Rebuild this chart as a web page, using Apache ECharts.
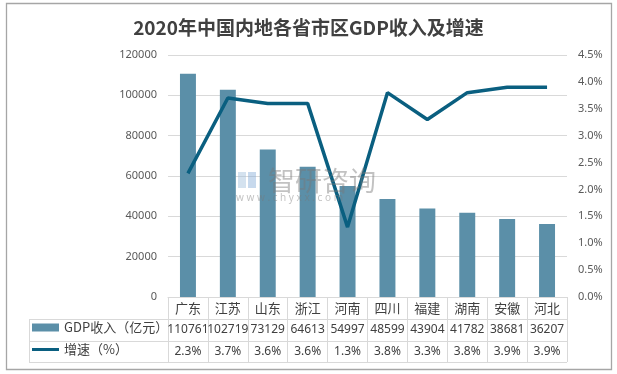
<!DOCTYPE html>
<html><head><meta charset="utf-8">
<script src="https://cdn.jsdelivr.net/npm/echarts@6/dist/echarts.min.js"></script>
<style>html,body{margin:0;padding:0;background:#fff}#c{width:617px;height:374px}</style>
</head><body><div id="c"></div>
<script>
const categories = ['广东','江苏','山东','浙江','河南','四川','福建','湖南','安徽','河北'];
const gdpValues = [110761,102719,73129,64613,54997,48599,43904,41782,38681,36207];
const growthValues = [2.3,3.7,3.6,3.6,1.3,3.8,3.3,3.8,3.9,3.9];
const gdpName = 'GDP收入（亿元）';
const growthName = '增速（%）';
const titleText = '2020年中国内地各省市区GDP收入及增速';

const FONT = '"Noto Sans","Noto Sans CJK SC",sans-serif';
const CJK = '"Noto Sans CJK SC","Noto Sans",sans-serif';
const barColor = '#5b8fa8';
const lineColor = '#0a5f80';
const tableLine = '#d9d9d9';

const chart = echarts.init(document.getElementById('c'));
const gL = 168, gR = 567, gT = 55, gB = 297;
const tableLeft = 29, rowH = 22;

const legendText = { fontFamily: CJK, fontSize: 13, color: '#404040' };

chart.setOption({
  backgroundColor: '#fff',
  animation: false,
  title: {
    text: titleText, left: 'center', top: 13,
    textStyle: { fontFamily: CJK, fontSize: 19, fontWeight: 'bold', color: '#404040' }
  },
  legend: [
    {
      left: 32, top: gB + rowH + 2, padding: 0, height: rowH,
      itemWidth: 27, itemHeight: 8, textStyle: legendText,
      data: [{ name: gdpName, icon: 'rect' }]
    },
    {
      left: 32, top: gB + 2 * rowH + 2, padding: 0, height: rowH,
      itemWidth: 27, itemHeight: 8, textStyle: legendText,
      data: [{ name: growthName, icon: 'path://M0,0M27,8M0,2.5H27V5.5H0Z' }]
    }
  ],
  grid: { left: gL, right: 617 - gR, top: gT, bottom: 374 - gB, containLabel: false },
  xAxis: {
    type: 'category', data: categories,
    axisLine: { lineStyle: { color: tableLine } },
    axisTick: { show: true, length: rowH * 3 - 1, interval: 0, lineStyle: { color: tableLine } },
    axisLabel: {
      interval: 0, margin: 0, hideOverlap: false,
      formatter: function (v, i) {
        return '{c|' + v + '}\n{n|' + gdpValues[i] + '}\n{n|' + growthValues[i].toFixed(1) + '%}';
      },
      rich: {
        c: { fontFamily: CJK, fontSize: 13, lineHeight: rowH, color: '#404040' },
        n: { fontFamily: FONT, fontSize: 12, lineHeight: rowH, color: '#404040' }
      }
    }
  },
  yAxis: [
    {
      type: 'value', min: 0, max: 120000, interval: 20000,
      axisLine: { show: false }, axisTick: { show: false },
      axisLabel: { fontFamily: FONT, fontSize: 11, color: '#595959', margin: 11,
        formatter: v => String(v) },
      splitLine: { lineStyle: { color: tableLine } }
    },
    {
      type: 'value', min: 0, max: 4.5, interval: 0.5,
      axisLine: { show: false }, axisTick: { show: false },
      axisLabel: { fontFamily: FONT, fontSize: 11, color: '#595959', margin: 11,
        formatter: v => v.toFixed(1) + '%' },
      splitLine: { show: false }
    }
  ],
  series: [
    {
      name: gdpName, type: 'bar', data: gdpValues, barWidth: '40%',
      itemStyle: { color: barColor }, z: 2
    },
    {
      name: growthName, type: 'line', yAxisIndex: 1, data: growthValues,
      symbol: 'none', lineStyle: { color: lineColor, width: 3.5 },
      itemStyle: { color: lineColor }, z: 3
    }
  ],
  graphic: [
    { type: 'rect', shape: { x: 6.5, y: 3.5, width: 605, height: 366 },
      style: { fill: 'none', stroke: '#a6a6a6', lineWidth: 1.3 }, silent: true },
    { type: 'line', shape: { x1: tableLeft, y1: gB + rowH + 0.5, x2: gR, y2: gB + rowH + 0.5 },
      style: { stroke: tableLine, lineWidth: 1 } },
    { type: 'line', shape: { x1: tableLeft, y1: gB + 2 * rowH + 0.5, x2: gR, y2: gB + 2 * rowH + 0.5 },
      style: { stroke: tableLine, lineWidth: 1 } },
    { type: 'line', shape: { x1: tableLeft, y1: gB + 3 * rowH - 0.5, x2: gR, y2: gB + 3 * rowH - 0.5 },
      style: { stroke: tableLine, lineWidth: 1 } },
    { type: 'line', shape: { x1: tableLeft + 0.5, y1: gB + rowH, x2: tableLeft + 0.5, y2: gB + 3 * rowH },
      style: { stroke: tableLine, lineWidth: 1 } },
    // watermark
    { type: 'text', left: 268, top: 167, z: 10, silent: true,
      style: { text: '智研咨询', fontFamily: CJK, fontSize: 27, fill: 'rgba(120,120,120,0.45)' } },
    { type: 'text', left: 236, top: 193, z: 10, silent: true,
      style: { text: 'w w w . c h y x x . c o m', fontFamily: FONT, fontSize: 10, fill: 'rgba(120,120,120,0.45)' } },
    { type: 'rect', shape: { x: 238, y: 172, width: 8, height: 16 }, z: 10, silent: true,
      style: { fill: 'rgba(160,190,220,0.45)' } },
    { type: 'rect', shape: { x: 248, y: 172, width: 8, height: 16 }, z: 10, silent: true,
      style: { fill: 'rgba(130,170,215,0.45)' } }
  ]
});
</script></body></html>
